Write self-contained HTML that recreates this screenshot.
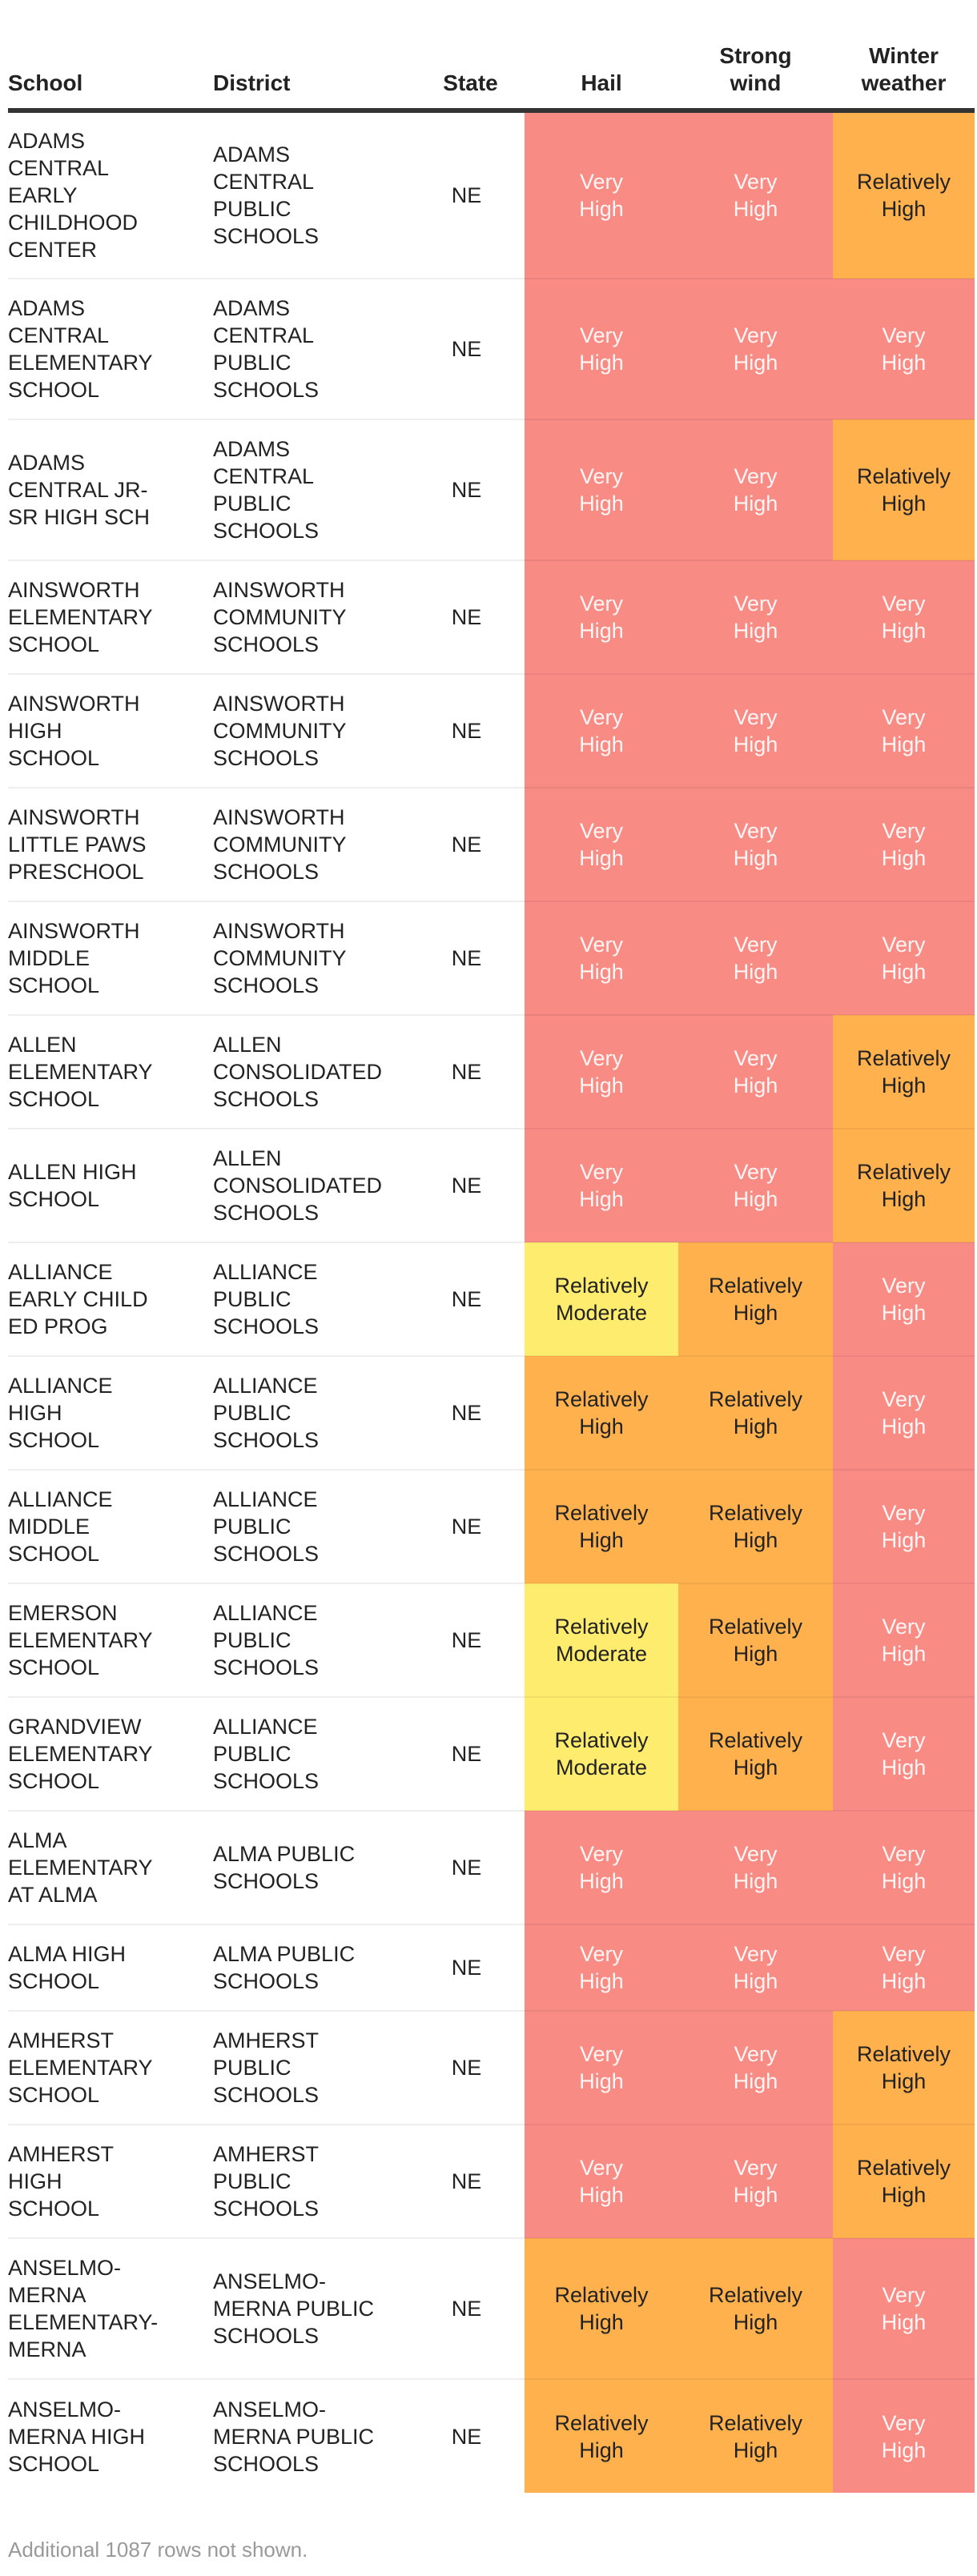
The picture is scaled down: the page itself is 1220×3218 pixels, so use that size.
<!DOCTYPE html>
<html><head><meta charset="utf-8">
<style>
html,body{margin:0;padding:0;background:#fff;}
body{width:1220px;height:3218px;position:relative;font-family:"Liberation Sans",sans-serif;color:#222;overflow:hidden;}
table{position:absolute;left:10px;top:0;border-collapse:collapse;table-layout:fixed;width:1207px;}
th{font-weight:bold;font-size:28px;line-height:34px;vertical-align:bottom;height:121px;padding:0 0 14px 0;border-bottom:6px solid #333;color:#222;}
td{font-size:27px;line-height:34px;padding:0;vertical-align:middle;border-top:2px solid #eee;}
td.c{text-align:center;border-top:2px solid rgba(0,0,0,0.06);}
.l{text-align:left;}
.vh{background:#F98B85;color:rgba(255,255,255,0.92);}
.rh{background:#FFB14E;color:#222;}
.rm{background:#FDEC6D;color:#222;}
#foot{position:absolute;left:10px;top:3170px;font-size:26px;color:#9a9a9a;}
</style></head><body>
<table>
<colgroup><col style="width:256px"><col style="width:254px"><col style="width:135px"><col style="width:192px"><col style="width:193px"><col style="width:177px"></colgroup>
<thead><tr>
<th class="l">School</th>
<th class="l">District</th>
<th>State</th>
<th>Hail</th>
<th>Strong<br>wind</th>
<th>Winter<br>weather</th>
</tr></thead>
<tbody id="tb"></tbody>
</table>
<div id="foot">Additional 1087 rows not shown.</div>
<script>
const schools=[["ADAMS","CENTRAL","EARLY","CHILDHOOD","CENTER"],["ADAMS","CENTRAL","ELEMENTARY","SCHOOL"],["ADAMS","CENTRAL JR-","SR HIGH SCH"],["AINSWORTH","ELEMENTARY","SCHOOL"],["AINSWORTH","HIGH","SCHOOL"],["AINSWORTH","LITTLE PAWS","PRESCHOOL"],["AINSWORTH","MIDDLE","SCHOOL"],["ALLEN","ELEMENTARY","SCHOOL"],["ALLEN HIGH","SCHOOL"],["ALLIANCE","EARLY CHILD","ED PROG"],["ALLIANCE","HIGH","SCHOOL"],["ALLIANCE","MIDDLE","SCHOOL"],["EMERSON","ELEMENTARY","SCHOOL"],["GRANDVIEW","ELEMENTARY","SCHOOL"],["ALMA","ELEMENTARY","AT ALMA"],["ALMA HIGH","SCHOOL"],["AMHERST","ELEMENTARY","SCHOOL"],["AMHERST","HIGH","SCHOOL"],["ANSELMO-","MERNA","ELEMENTARY-","MERNA"],["ANSELMO-","MERNA HIGH","SCHOOL"]];
const districts=[["ADAMS","CENTRAL","PUBLIC","SCHOOLS"],["ADAMS","CENTRAL","PUBLIC","SCHOOLS"],["ADAMS","CENTRAL","PUBLIC","SCHOOLS"],["AINSWORTH","COMMUNITY","SCHOOLS"],["AINSWORTH","COMMUNITY","SCHOOLS"],["AINSWORTH","COMMUNITY","SCHOOLS"],["AINSWORTH","COMMUNITY","SCHOOLS"],["ALLEN","CONSOLIDATED","SCHOOLS"],["ALLEN","CONSOLIDATED","SCHOOLS"],["ALLIANCE","PUBLIC","SCHOOLS"],["ALLIANCE","PUBLIC","SCHOOLS"],["ALLIANCE","PUBLIC","SCHOOLS"],["ALLIANCE","PUBLIC","SCHOOLS"],["ALLIANCE","PUBLIC","SCHOOLS"],["ALMA PUBLIC","SCHOOLS"],["ALMA PUBLIC","SCHOOLS"],["AMHERST","PUBLIC","SCHOOLS"],["AMHERST","PUBLIC","SCHOOLS"],["ANSELMO-","MERNA PUBLIC","SCHOOLS"],["ANSELMO-","MERNA PUBLIC","SCHOOLS"]];
const hail=["VH","VH","VH","VH","VH","VH","VH","VH","VH","RM","RH","RH","RM","RM","VH","VH","VH","VH","RH","RH"];
const wind=["VH","VH","VH","VH","VH","VH","VH","VH","VH","RH","RH","RH","RH","RH","VH","VH","VH","VH","RH","RH"];
const winter=["RH","VH","RH","VH","VH","VH","VH","RH","RH","VH","VH","VH","VH","VH","VH","VH","RH","RH","VH","VH"];
const labels={VH:["Very","High"],RH:["Relatively","High"],RM:["Relatively","Moderate"]};
const cls={VH:"vh",RH:"rh",RM:"rm"};
const tb=document.getElementById('tb');
schools.forEach((s,i)=>{
  const n=Math.max(s.length,districts[i].length);
  const tr=document.createElement('tr');
  
  
  tr.style.height=(n*34+40)+'px';
  const a=document.createElement('td');a.className='l';a.innerHTML=s.join('<br>');
  
  
  const b=document.createElement('td');b.className='l';b.innerHTML=districts[i].join('<br>');
  
  
  const c=document.createElement('td');c.style.textAlign='center';c.style.paddingRight='10px';c.textContent='NE';
  
  
  tr.append(a,b,c);
  [[hail,'hail-cell'],[wind,'strong-wind-cell'],[winter,'winter-weather-cell']].forEach(([arr,nm])=>{
    const d=document.createElement('td');d.className='c '+cls[arr[i]];
    d.innerHTML=labels[arr[i]].join('<br>');
    
    
    tr.appendChild(d);
  });
  tb.appendChild(tr);
});
</script>
</body></html>
